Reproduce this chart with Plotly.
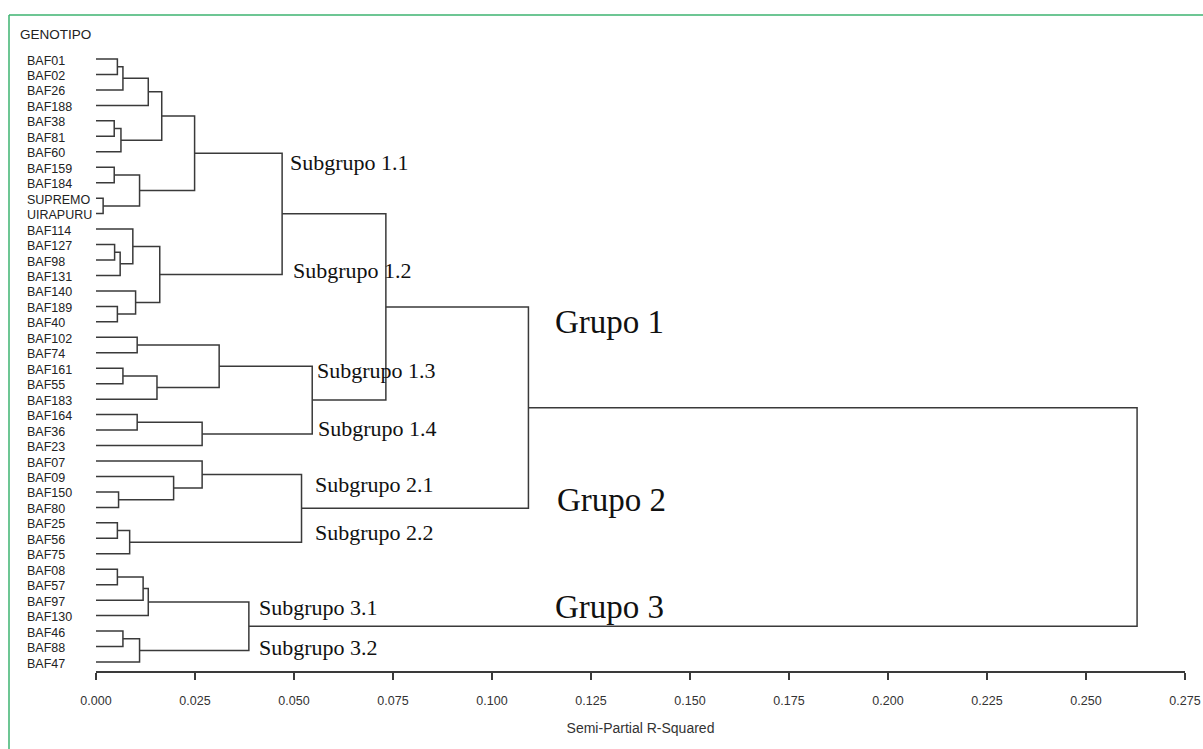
import plotly.graph_objects as go

# ---------------- data ----------------
leaves = ["BAF01", "BAF02", "BAF26", "BAF188", "BAF38", "BAF81", "BAF60", "BAF159",
          "BAF184", "SUPREMO", "UIRAPURU", "BAF114", "BAF127", "BAF98", "BAF131",
          "BAF140", "BAF189", "BAF40", "BAF102", "BAF74", "BAF161", "BAF55", "BAF183",
          "BAF164", "BAF36", "BAF23", "BAF07", "BAF09", "BAF150", "BAF80", "BAF25",
          "BAF56", "BAF75", "BAF08", "BAF57", "BAF97", "BAF130", "BAF46", "BAF88", "BAF47"]

# merges: cluster CLk (k = 1..n) joins merge_left[k-1] and merge_right[k-1]
merge_left = ["BAF01", "CL1", "CL2", "BAF38", "CL4", "CL3", "BAF159", "SUPREMO", "CL7", "CL6",
              "BAF127", "CL11", "BAF114", "BAF189", "BAF140", "CL13", "CL10",
              "BAF102", "BAF161", "CL19", "CL18", "BAF164", "CL22", "CL21", "CL17",
              "BAF150", "BAF09", "BAF07", "BAF25", "CL29", "CL28", "CL25",
              "BAF08", "CL33", "CL34", "BAF46", "CL36", "CL35", "CL32"]
merge_right = ["BAF02", "BAF26", "BAF188", "BAF81", "BAF60", "CL5", "BAF184", "UIRAPURU", "CL8", "CL9",
               "BAF98", "BAF131", "CL12", "BAF40", "CL14", "CL15", "CL16",
               "BAF74", "BAF55", "BAF183", "CL20", "BAF36", "BAF23", "CL23", "CL24",
               "BAF80", "CL26", "CL27", "BAF56", "BAF75", "CL30", "CL31",
               "BAF57", "BAF97", "BAF130", "BAF88", "BAF47", "CL37", "CL38"]
merge_height = [0.0054, 0.0068, 0.0132, 0.0046, 0.0063, 0.0166, 0.0046, 0.0018, 0.0110, 0.0249,
                0.0047, 0.0061, 0.0093, 0.0054, 0.0100, 0.0161, 0.0470,
                0.0104, 0.0068, 0.0154, 0.0311, 0.0104, 0.0268, 0.0546, 0.0732,
                0.0057, 0.0196, 0.0268, 0.0054, 0.0085, 0.0519, 0.1092,
                0.0054, 0.0119, 0.0132, 0.0068, 0.0110, 0.0386, 0.2629]

group_labels = ["Subgrupo 1.1", "Subgrupo 1.2", "Subgrupo 1.3", "Subgrupo 1.4",
                "Subgrupo 2.1", "Subgrupo 2.2", "Subgrupo 3.1", "Subgrupo 3.2",
                "Grupo 1", "Grupo 2", "Grupo 3"]
x_ticks = [0.0, 0.025, 0.05, 0.075, 0.1, 0.125, 0.15, 0.175, 0.2, 0.225, 0.25, 0.275]

# ---------------- label placement (layout only) ----------------
label_x = [0.0490, 0.0498, 0.0558, 0.0561, 0.0553, 0.0553, 0.0412, 0.0412, 0.1159, 0.1164, 0.1159]
label_y = [6.69, 13.71, 20.12, 23.87, 27.49, 30.60, 35.45, 38.03, 17.01, 28.52, 35.45]
label_size = [22] * 8 + [33] * 3

# ---------------- build dendrogram segments ----------------
pos = {name: i for i, name in enumerate(leaves)}
hgt = {name: 0.0 for name in leaves}
xs, ys = [], []
for k, (a, b, h) in enumerate(zip(merge_left, merge_right, merge_height), start=1):
    ya, yb = pos[a], pos[b]
    xs += [hgt[a], h, h, hgt[b], None]
    ys += [ya, ya, yb, yb, None]
    name = f"CL{k}"
    pos[name] = (ya + yb) / 2
    hgt[name] = h

LINE = "#3a3a3a"
fig = go.Figure()
fig.add_trace(go.Scatter(x=xs, y=ys, mode="lines",
                         line=dict(color=LINE, width=1.5),
                         hoverinfo="skip", showlegend=False))

n = len(leaves)
fig.update_layout(
    width=1203, height=749,
    margin=dict(l=96, r=18, t=50, b=78, autoexpand=False),
    paper_bgcolor="white", plot_bgcolor="white",
    showlegend=False,
    xaxis=dict(range=[0, 0.275], tickvals=x_ticks, tickformat=".3f",
               automargin=False,
               showline=True, linecolor=LINE, linewidth=1.5,
               ticks="outside", ticklen=7, tickwidth=1.5, tickcolor=LINE,
               ticklabelstandoff=10,
               showgrid=False, zeroline=False,
               tickfont=dict(family="Liberation Sans, Arial", size=12.5, color="#333"),
               title=dict(text="Semi-Partial R-Squared",
                          font=dict(family="Liberation Sans, Arial", size=14, color="#333"),
                          standoff=16)),
    yaxis=dict(range=[n - 1 + 0.582, -0.582], visible=False, automargin=False,
               showgrid=False, zeroline=False),
)

annotations = []
for name in leaves:
    annotations.append(dict(x=(25 - 96) / 1089, xref="paper", y=pos[name], yref="y",
                            text=name, showarrow=False, xanchor="left", yanchor="middle",
                            yshift=-1.5,
                            font=dict(family="Liberation Sans, Arial", size=12.5, color="#222")))
annotations.append(dict(x=(18 - 96) / 1089, xref="paper", y=(671 - 34) / 621, yref="paper",
                        text="GENOTIPO", showarrow=False, xanchor="left", yanchor="middle",
                        font=dict(family="Liberation Sans, Arial", size=13.5, color="#222")))
for t, lx, ly, s in zip(group_labels, label_x, label_y, label_size):
    annotations.append(dict(x=lx, y=ly, xref="x", yref="y", text=t, showarrow=False,
                            xanchor="left", yanchor="middle", xshift=-2,
                            font=dict(family="Liberation Serif, Times New Roman", size=s,
                                      color="#111")))
fig.update_layout(annotations=annotations)

# green frame (left and top edges)
GREEN = "#3cb371"
x_left = (9 - 96) / 1089
y_top = (671 - 15) / 621
fig.add_shape(type="line", xref="paper", yref="paper", x0=x_left, x1=x_left,
              y0=y_top, y1=(671 - 760) / 621, line=dict(color=GREEN, width=1.5))
fig.add_shape(type="line", xref="paper", yref="paper", x0=x_left, x1=(1210 - 96) / 1089,
              y0=y_top, y1=y_top, line=dict(color=GREEN, width=1.5))

fig.write_html("out.html", config={"displayModeBar": False},
               post_script="document.body.style.margin='0';")
